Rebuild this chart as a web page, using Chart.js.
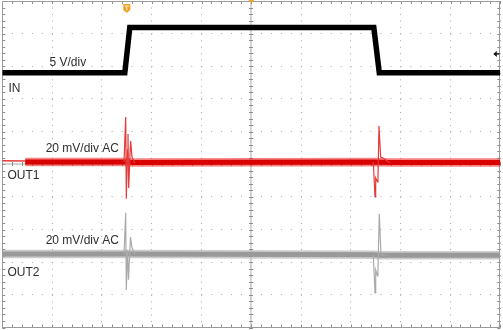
<!DOCTYPE html>
<html>
<head>
<meta charset="utf-8">
<script src="https://cdn.jsdelivr.net/npm/chart.js"></script>
<style>
  html, body { margin: 0; padding: 0; background: #fff; }
  #wrap { position: relative; width: 503px; height: 330px; }
</style>
</head>
<body>
<div id="wrap"><canvas id="scope"></canvas></div>
<script>
  // screen is 10 x 10 divisions, level 0 = bottom of the graticule
  const inTime  = [0, 2.46, 2.56, 7.46, 7.57, 10];
  const inLevel = [7.80, 7.80, 9.19, 9.19, 7.80, 7.80];

  const out1Time  = [0.46, 2.44, 2.66, 7.45, 7.79, 10];
  const out1Level = [5.07, 5.07, 5.05, 5.07, 5.05, 5.05];
  const out1LeadTime  = [0, 0.46];
  const out1LeadLevel = [5.11, 5.10];
  const out1RiseTime  = [2.444, 2.478, 2.490, 2.514, 2.524, 2.538, 2.564, 2.578, 2.604, 2.664];
  const out1RiseLevel = [5.07, 6.45, 3.94, 5.44, 5.93, 4.27, 5.28, 5.71, 5.22, 5.04];
  const out1FallTime  = [7.450, 7.484, 7.498, 7.534, 7.544, 7.564, 7.598, 7.645, 7.785];
  const out1FallLevel = [5.07, 4.00, 4.58, 4.46, 4.64, 6.17, 5.22, 5.19, 5.04];

  const out2Time  = [0, 2.44, 2.66, 7.45, 7.60, 10];
  const out2Level = [2.25, 2.25, 2.25, 2.23, 2.21, 2.21];
  const out2RiseTime  = [2.444, 2.478, 2.490, 2.514, 2.524, 2.534, 2.574, 2.604, 2.664];
  const out2RiseLevel = [2.25, 3.51, 1.15, 2.37, 2.37, 1.46, 2.77, 2.44, 2.25];
  const out2FallTime  = [7.450, 7.484, 7.498, 7.534, 7.544, 7.570, 7.604, 7.685];
  const out2FallLevel = [2.22, 1.06, 1.76, 1.58, 1.82, 3.48, 2.25, 2.19];

  const triggerTime = 2.5;
  const triggerLevel = 8.38;

  const labelText = ['5 V/div', 'IN', '20 mV/div AC', 'OUT1', '20 mV/div AC', 'OUT2'];

  function pts(xs, ys) {
    return xs.map((x, i) => ({ x: x, y: ys[i] }));
  }

  function trace(data, color, width) {
    return {
      data: data,
      borderColor: color,
      borderWidth: width,
      pointRadius: 0,
      tension: 0,
      fill: false,
    };
  }

  const scopeDecor = {
    id: 'scopeDecor',
    beforeDatasetsDraw(chart) {
      const { ctx, chartArea: a, scales: { x, y } } = chart;
      const cx = Math.round(x.getPixelForValue(5));
      const cy = Math.round(y.getPixelForValue(5));
      ctx.save();
      // centre crosshair
      ctx.fillStyle = '#d6d6d6';
      ctx.fillRect(cx - 1, a.top, 2, a.bottom - a.top);
      ctx.fillRect(a.left, cy - 1, a.right - a.left, 2);
      // minor ticks on the crosshair and the frame
      ctx.fillStyle = '#8c8c8c';
      for (let i = 0; i <= 50; i++) {
        const v = i * 0.2;
        const py = Math.round(y.getPixelForValue(v));
        const px = Math.round(x.getPixelForValue(v));
        ctx.fillRect(cx - 2, py, 4, 1);
        ctx.fillRect(a.left, py, 3, 1);
        ctx.fillRect(a.right - 3, py, 3, 1);
        ctx.fillRect(px, cy - 2, 1, 4);
        ctx.fillRect(px, a.top, 1, 3);
        ctx.fillRect(px, a.bottom - 3, 1, 3);
      }
      ctx.strokeStyle = '#9a9a9a';
      ctx.lineWidth = 1;
      ctx.strokeRect(Math.round(a.left) + 0.5, Math.round(a.top) + 0.5,
        Math.round(a.right - a.left) - 1, Math.round(a.bottom - a.top) - 1);
      ctx.restore();
    },
    afterDatasetsDraw(chart) {
      const { ctx, chartArea: a, scales: { x, y } } = chart;
      const labelAt = [[0.948, 8.01], [0.124, 7.22], [0.871, 5.38],
                       [0.104, 4.54], [0.871, 2.56], [0.104, 1.59]];
      ctx.save();
      ctx.font = '12px "Liberation Sans", Arial, sans-serif';
      ctx.fillStyle = '#2e2e2e';
      ctx.textBaseline = 'alphabetic';
      labelText.forEach((t, i) => {
        ctx.fillText(t, x.getPixelForValue(labelAt[i][0]), y.getPixelForValue(labelAt[i][1]));
      });

      // trigger position marker
      const tx = x.getPixelForValue(triggerTime);
      ctx.fillStyle = '#f2a124';
      ctx.beginPath();
      ctx.moveTo(tx - 3.5, a.top + 3);
      ctx.lineTo(tx + 3.5, a.top + 3);
      ctx.lineTo(tx + 3.5, a.top + 9);
      ctx.lineTo(tx, a.top + 12);
      ctx.lineTo(tx - 3.5, a.top + 9);
      ctx.closePath();
      ctx.fill();
      ctx.fillStyle = '#fde7b8';
      ctx.fillRect(tx - 2, a.top + 4.5, 4, 1.2);
      ctx.fillRect(tx - 0.6, a.top + 4.5, 1.2, 5);

      // horizontal position marker (centre, top)
      const mx = x.getPixelForValue(5);
      ctx.fillStyle = '#f2a124';
      ctx.beginPath();
      ctx.moveTo(mx - 3, 0);
      ctx.lineTo(mx + 3, 0);
      ctx.lineTo(mx, 3);
      ctx.closePath();
      ctx.fill();

      // trigger level arrow
      const ty = y.getPixelForValue(triggerLevel);
      ctx.fillStyle = '#111';
      ctx.beginPath();
      ctx.moveTo(a.right - 7, ty);
      ctx.lineTo(a.right - 3.5, ty - 3);
      ctx.lineTo(a.right - 3.5, ty + 3);
      ctx.closePath();
      ctx.fill();
      ctx.fillRect(a.right - 4, ty - 0.7, 3, 1.4);
      ctx.restore();
    }
  };

  new Chart(document.getElementById('scope'), {
    type: 'line',
    data: {
      datasets: [
        trace(pts(out1RiseTime, out1RiseLevel), '#e33a3a', 1.2),
        trace(pts(out1FallTime, out1FallLevel), '#e33a3a', 1.2),
        trace(pts(out1LeadTime, out1LeadLevel), '#e33a3a', 1.5),
        trace(pts(out2RiseTime, out2RiseLevel), '#aaaaaa', 1.2),
        trace(pts(out2FallTime, out2FallLevel), '#aaaaaa', 1.2),
        trace(pts(inTime, inLevel), '#000000', 5.5),
        trace(pts(out1Time, out1Level), '#d80000', 5),
        trace(pts(out1Time, out1Level), 'rgba(240,30,30,0.55)', 8.5),
        trace(pts(out2Time, out2Level), '#999999', 5),
        trace(pts(out2Time, out2Level), 'rgba(170,170,170,0.6)', 8.5),
      ],
    },
    options: {
      responsive: true,
      maintainAspectRatio: false,
      animation: false,
      events: [],
      layout: { padding: { left: 2.3, right: 2.7, top: 1, bottom: 2.5 } },
      plugins: { legend: { display: false }, tooltip: { enabled: false } },
      scales: {
        x: {
          type: 'linear', min: 0, max: 10,
          ticks: { display: false, stepSize: 1 },
          grid: { color: '#a8a8a8', lineWidth: 1, drawTicks: false },
          border: { display: false, dash: [1, 5.53] },
        },
        y: {
          type: 'linear', min: 0, max: 10,
          ticks: { display: false, stepSize: 1 },
          grid: { color: '#a8a8a8', lineWidth: 1, drawTicks: false },
          border: { display: false, dash: [1, 8.96] },
        },
      },
    },
    plugins: [scopeDecor],
  });
</script>
</body>
</html>
